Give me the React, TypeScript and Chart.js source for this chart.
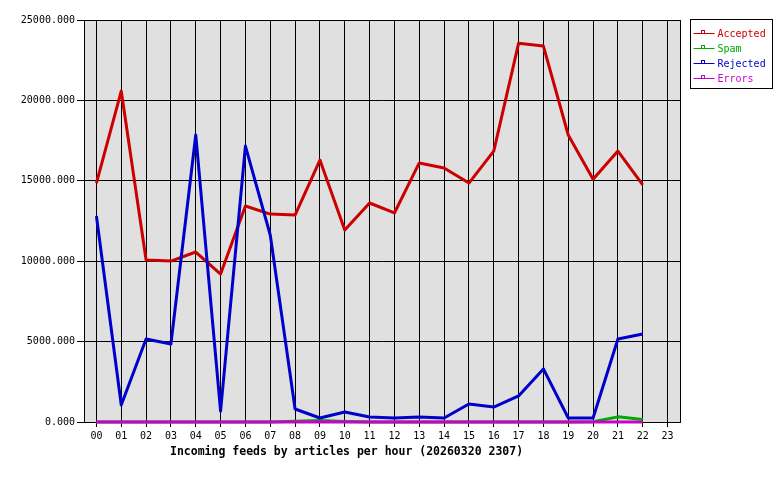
import { useEffect, useRef } from "react";
import { Chart, registerables } from "chart.js";

Chart.register(...registerables);

const hours = ["00","01","02","03","04","05","06","07","08","09","10","11","12","13","14","15","16","17","18","19","20","21","22","23"];
const accepted = [14850,20580,10080,10010,10570,9200,13430,12930,12870,16290,11940,13620,13000,16110,15800,14860,16850,23550,23380,17850,15100,16850,14740];
const spam = [0,0,0,0,0,0,0,0,40,90,30,0,0,0,0,0,0,0,0,0,20,320,150];
const rejected = [12810,1060,5160,4850,17850,680,17160,11630,810,250,620,310,250,310,250,1120,930,1620,3300,250,250,5160,5470];
const errors = [0,0,0,0,0,0,0,0,0,0,0,0,0,0,0,0,0,0,0,0,0,0,0];
const seriesNames = ["Accepted","Spam","Rejected","Errors"];
const seriesColors = ["#cc0000","#00aa00","#0000cc","#cc00cc"];
const xTitle = "Incoming feeds by articles per hour (20260320 2307)";
const yMax = 25000;
const yStep = 5000;

const MONO = "'DejaVu Sans Mono', monospace";

const framePlugin = {
  id: "frame",
  beforeDraw(chart: any) {
    const { ctx, chartArea: a } = chart;
    ctx.save();
    ctx.fillStyle = "#ffffff";
    ctx.fillRect(0, 0, chart.width, chart.height);
    ctx.fillStyle = "#e0e0e0";
    ctx.fillRect(a.left, a.top, a.right - a.left, a.bottom - a.top);
    ctx.restore();
  },
  beforeDatasetsDraw(chart: any) {
    const { ctx, chartArea: a } = chart;
    ctx.save();
    ctx.strokeStyle = "#000000";
    ctx.lineWidth = 1;
    ctx.strokeRect(Math.round(a.left) + 0.5, Math.round(a.top) + 0.5, Math.round(a.right - a.left), Math.round(a.bottom - a.top));
    ctx.restore();
  },
  afterDraw(chart: any) {
    const { ctx, chartArea: a } = chart;
    ctx.save();
    // x axis title
    ctx.fillStyle = "#000000";
    ctx.font = `bold 11.5px ${MONO}`;
    ctx.textAlign = "left";
    ctx.textBaseline = "middle";
    ctx.fillText(xTitle, 170, a.bottom + 30);
    // legend
    const bx = Math.round(a.right) + 10.5;
    const by = Math.round(a.top) - 0.5;
    ctx.strokeStyle = "#000000";
    ctx.lineWidth = 1;
    ctx.strokeRect(bx, by, 82, 69);
    ctx.font = `10px ${MONO}`;
    seriesNames.forEach((name, i) => {
      const y = by + 14 + 15 * i;
      const c = seriesColors[i];
      ctx.strokeStyle = c;
      ctx.beginPath();
      ctx.moveTo(bx + 3, y);
      ctx.lineTo(bx + 24, y);
      ctx.stroke();
      ctx.strokeRect(bx + 11, y - 3, 3, 3);
      ctx.fillStyle = c;
      ctx.fillText(name, bx + 27, y + 0.5);
    });
    ctx.restore();
  },
};

export default function App() {
  const ref = useRef<HTMLCanvasElement | null>(null);
  useEffect(() => {
    document.body.style.margin = "0";
    const series = [accepted, spam, rejected, errors];
    const chart = new Chart(ref.current as HTMLCanvasElement, {
      type: "line",
      data: {
        labels: hours,
        datasets: series.map((d, i) => ({
          label: seriesNames[i],
          data: d,
          borderColor: seriesColors[i],
          backgroundColor: seriesColors[i],
          borderWidth: 3,
          borderJoinStyle: "round" as const,
          pointRadius: 0,
          tension: 0,
          fill: false,
          clip: false,
          order: 4 - i,
        })),
      },
      options: {
        animation: false,
        responsive: false,
        layout: { padding: { left: 0, top: 20, right: 100, bottom: 0 } },
        plugins: { legend: { display: false }, tooltip: { enabled: false } },
        scales: {
          x: {
            type: "category",
            offset: true,
            grid: { color: "#000000", lineWidth: 1, tickLength: 5, drawTicks: true, offset: false },
            border: { display: true, color: "#000000" },
            ticks: { color: "#000000", font: { family: MONO, size: 10 }, padding: 3, autoSkip: false, maxRotation: 0 },
            afterFit(scale: any) { scale.height = 58; },
          },
          y: {
            min: 0,
            max: yMax,
            grid: { color: "#000000", lineWidth: 1, tickLength: 7 },
            border: { display: true, color: "#000000" },
            ticks: {
              stepSize: yStep,
              color: "#000000",
              font: { family: MONO, size: 10 },
              padding: 2,
              callback: (v: any) => Number(v).toFixed(3),
            },
            afterFit(scale: any) { scale.width = 84; },
          },
        },
      },
      plugins: [framePlugin],
    });
    return () => chart.destroy();
  }, []);
  return <canvas ref={ref} width={780} height={480} style={{ display: "block" }} />;
}
